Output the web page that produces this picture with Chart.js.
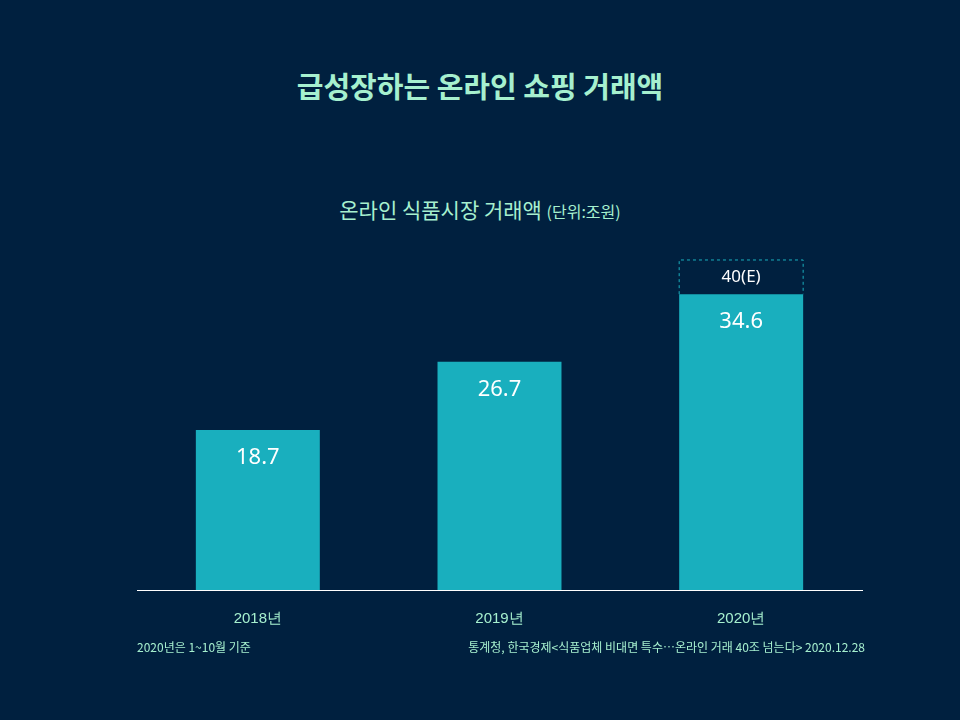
<!DOCTYPE html>
<html>
<head>
<meta charset="utf-8">
<script src="https://cdn.jsdelivr.net/npm/chart.js@4"></script>
<style>
  body { margin: 0; background: #00203f; font-family: "Noto Sans CJK KR", sans-serif; }
  #wrap { position: relative; width: 960px; height: 720px; }
  canvas { position: absolute; left: 0; top: 0; }
  .t { position: absolute; left: 0; width: 960px; text-align: center; color: #a6f0cf; }
  .foot { position: absolute; top: 638px; font-size: 12px; color: #a6f0cf; }
</style>
</head>
<body>
<div id="wrap">
  <div class="t" style="top:64px;font-size:29px;font-weight:bold;">급성장하는 온라인 쇼핑 거래액</div>
  <div class="t" style="top:194px;font-size:21px;">온라인 식품시장 거래액 <span style="font-size:16px;">(단위:조원)</span></div>
  <canvas id="barChart" width="960" height="720"></canvas>
  <div class="foot" style="left:137px;">2020년은 1~10월 기준</div>
  <div class="foot" style="right:95px;">통계청, 한국경제&lt;식품업체 비대면 특수…온라인 거래 40조 넘는다&gt; 2020.12.28</div>
</div>
<script>
var years = ['2018년', '2019년', '2020년'];
var totals = [18.7, 26.7, 34.6];
var estimateLabels = [null, null, '40(E)'];
var estimateRange = [null, null, [34.6, 38.6]];

var labelPlugin = {
    id: 'labels',
    afterDatasetsDraw: function(chart) {
        var ctx = chart.ctx;
        ctx.save();
        ctx.textAlign = 'center';
        ctx.textBaseline = 'middle';
        ctx.fillStyle = '#ffffff';
        ctx.font = '22px "Noto Sans", sans-serif';
        chart.getDatasetMeta(0).data.forEach(function(bar, i) {
            ctx.fillText(totals[i].toFixed(1), bar.x, bar.y + 28);
        });
        chart.getDatasetMeta(1).data.forEach(function(bar, i) {
            if (!estimateLabels[i]) return;
            var half = bar.width / 2;
            ctx.strokeStyle = '#19afbe';
            ctx.lineWidth = 1;
            ctx.setLineDash([3, 3]);
            ctx.beginPath();
            ctx.moveTo(bar.x - half, bar.base);
            ctx.lineTo(bar.x - half, bar.y);
            ctx.lineTo(bar.x + half, bar.y);
            ctx.lineTo(bar.x + half, bar.base);
            ctx.stroke();
            ctx.setLineDash([]);
            ctx.font = '17px "Noto Sans", sans-serif';
            ctx.fillText(estimateLabels[i], bar.x, (bar.y + bar.base) / 2);
        });
        ctx.restore();
    }
};

var ctx = document.getElementById('barChart').getContext('2d');
var myChart = new Chart(ctx, {
    type: 'bar',
    data: {
        labels: years,
        datasets: [{
            data: totals,
            backgroundColor: '#19afbe',
            barPercentage: 0.513,
            categoryPercentage: 1
        }, {
            data: estimateRange,
            backgroundColor: 'rgba(0,0,0,0)',
            barPercentage: 0.513,
            categoryPercentage: 1
        }]
    },
    options: {
        responsive: false,
        animation: false,
        layout: { padding: { left: 137, right: 98, top: 248, bottom: 0 } },
        plugins: { legend: { display: false }, tooltip: { enabled: false } },
        scales: {
            x: {
                stacked: true,
                grid: { display: false },
                border: { color: '#ffffff', width: 1 },
                ticks: { color: '#a6f0cf', font: { size: 15 }, padding: 12 },
                afterFit: function(s) { s.height = 130; }
            },
            y: { display: false, min: 0, max: 40 }
        }
    },
    plugins: [labelPlugin]
});
</script>
</body>
</html>
